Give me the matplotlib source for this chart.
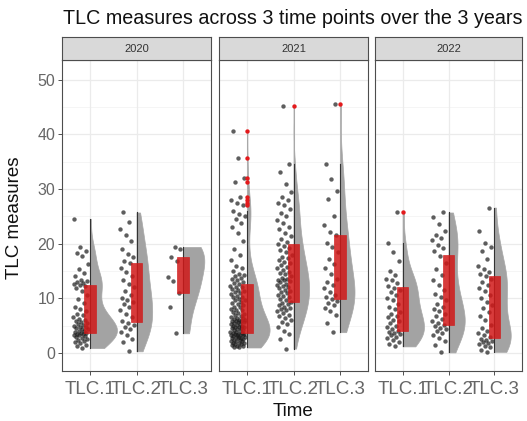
import numpy as np
import matplotlib
matplotlib.use("Agg")
import matplotlib.pyplot as plt

plt.rcParams['font.family'] = ['Liberation Sans', 'DejaVu Sans']

years = ["2020", "2021", "2022"]
times = ["TLC.1", "TLC.2", "TLC.3"]
title = "TLC measures across 3 time points over the 3 years"

tlc_2020_1 = [0.9, 1.2, 1.5, 1.8, 2.0, 2.2, 2.4, 2.6, 2.8, 3.0, 3.1, 3.2, 3.3, 3.4, 3.5,
              3.6, 3.7, 3.9, 4.0, 4.1, 4.3, 4.4, 4.5, 4.7, 4.8, 5.0, 5.1, 5.3, 5.4, 5.6,
              5.8, 6.0, 6.3, 6.6, 6.9, 7.2, 7.6, 8.0, 8.5, 9.1, 9.8, 10.6, 11.3, 11.9, 12.3,
              12.5, 12.6, 12.8, 12.9, 13.1, 13.4, 14.0, 14.6, 15.4, 16.3, 17.8, 18.2, 18.6, 19.4, 24.5]
tlc_2020_2 = [0.3, 2.0, 2.6, 3.2, 3.8, 4.3, 4.8, 5.1, 5.5,
              5.8, 6.5, 7.2, 7.8, 8.4, 8.9, 9.3, 9.7, 10.0,
              10.6, 11.3, 12.0, 12.6, 13.3, 14.0, 14.8, 15.6, 16.4,
              16.9, 17.5, 18.1, 19.0, 20.4, 21.6, 22.6, 24.0, 25.7]
tlc_2020_3 = [3.6, 8.4, 10.9, 13.2, 13.9, 16.9, 17.6, 19.0, 19.4]

tlc_2021_1 = [1.0, 1.1, 1.3, 1.3, 1.4, 1.6, 1.6, 1.8, 1.9, 1.9, 2.1, 2.1, 2.2, 2.4, 2.4,
              2.5, 2.7, 2.7, 2.8, 2.9, 3.0, 3.0, 3.1, 3.2, 3.2, 3.3, 3.3, 3.4, 3.5, 3.5,
              3.6, 3.7, 3.9, 3.9, 4.0, 4.2, 4.2, 4.3, 4.5, 4.5, 4.7, 4.7, 4.8, 5.0, 5.0,
              5.1, 5.3, 5.3, 5.4, 5.6, 5.6, 5.8, 5.8, 5.9, 6.1, 6.1, 6.2, 6.4, 6.4, 6.5,
              6.7, 6.9, 7.2, 7.3, 7.5, 7.8, 7.9, 8.1, 8.4, 8.5, 8.7, 9.0, 9.1, 9.3, 9.6,
              9.7, 9.9, 10.2, 10.3, 10.5, 10.8, 10.9, 11.1, 11.4, 11.5, 11.7, 12.0, 12.1, 12.3, 12.6,
              12.8, 13.0, 13.3, 13.6, 13.8, 14.0, 14.2, 14.5, 15.0, 15.5, 16.0, 17.0, 18.0, 19.0, 20.5,
              22.0, 23.0, 23.8, 24.5, 25.0, 25.5, 26.0, 27.0, 27.5, 28.0, 28.5, 31.3, 32.0, 35.7, 40.7]
tlc_2021_2 = [0.8, 2.5, 3.4, 4.1, 4.8, 5.3, 5.7, 6.1, 6.4, 6.8, 7.0, 7.3, 7.6, 7.8, 8.1, 8.3, 8.5, 8.8, 9.0, 9.2,
              9.4, 9.7, 9.9, 10.2, 10.4, 10.6, 10.9, 11.1, 11.3, 11.6, 11.8, 12.0, 12.2, 12.5, 12.7, 12.9, 13.1, 13.3, 13.4, 13.6,
              13.8, 14.1, 14.4, 14.6, 14.9, 15.2, 15.5, 15.8, 16.1, 16.4, 16.7, 17.0, 17.3, 17.6, 18.0, 18.4, 18.8, 19.2, 19.6, 19.9,
              20.3, 20.8, 21.4, 22.0, 22.6, 23.1, 23.8, 24.4, 25.0, 25.6, 26.3, 27.0, 27.5, 28.0, 28.6, 29.5, 31.0, 33.2, 34.5, 45.1]
tlc_2021_3 = [3.8, 5.5, 7.0, 7.6, 8.2, 8.7, 9.1, 9.5,
              9.9, 10.2, 10.6, 11.2, 11.9, 12.4, 13.0, 13.6,
              14.4, 15.5, 16.3, 17.2, 18.4, 19.3, 20.2, 21.5,
              22.1, 23.5, 25.0, 28.2, 29.6, 31.8, 34.5, 45.5]

tlc_2022_1 = [1.2, 1.6, 2.0, 2.3, 2.7, 3.0, 3.2, 3.4, 3.6, 3.8,
              4.0, 4.3, 4.7, 5.0, 5.4, 5.8, 6.1, 6.5, 6.8, 7.1,
              7.5, 8.0, 8.5, 9.0, 9.6, 10.1, 10.6, 11.1, 11.5, 11.9,
              12.3, 12.8, 13.3, 13.6, 14.2, 15.0, 16.9, 18.5, 20.2, 25.7]
tlc_2022_2 = [0.1, 1.5, 2.2, 2.8, 3.3, 3.7, 4.0, 4.3, 4.6, 4.9,
              5.1, 5.4, 5.8, 6.2, 6.7, 7.1, 7.6, 8.0, 8.5, 9.0,
              9.6, 10.2, 10.8, 11.6, 12.4, 13.4, 14.2, 15.3, 16.5, 17.8,
              18.6, 19.2, 19.8, 20.6, 21.0, 21.5, 22.4, 23.6, 24.8, 25.7]
tlc_2022_3 = [0.2, 0.6, 1.0, 1.3, 1.6, 1.8, 2.0, 2.2, 2.4, 2.6,
              2.9, 3.3, 3.6, 4.1, 4.5, 5.2, 6.0, 6.8, 7.5, 8.3,
              8.8, 9.4, 10.0, 10.6, 11.4, 11.9, 12.5, 13.0, 13.5, 14.0,
              14.5, 14.9, 15.3, 16.0, 17.2, 18.6, 19.3, 20.1, 22.4, 26.6]

data = {
    "2020": [tlc_2020_1, tlc_2020_2, tlc_2020_3],
    "2021": [tlc_2021_1, tlc_2021_2, tlc_2021_3],
    "2022": [tlc_2022_1, tlc_2022_2, tlc_2022_3],
}

W, H = 527, 421
fig = plt.figure(figsize=(W / 100, H / 100), dpi=100)

lefts = [62, 219, 375]
widths = [149, 149, 147]
top_px, bot_px, strip_top = 60, 371, 37
ylim = (-3.3, 53.6)

def nrd0(x):
    x = np.asarray(x)
    sd = np.std(x, ddof=1)
    iqr = np.subtract(*np.percentile(x, [75, 25]))
    lo = min(sd, iqr / 1.34) if iqr > 0 else sd
    return 0.9 * lo * len(x) ** (-0.2)

def kde(x, grid):
    x = np.asarray(x)
    bw = nrd0(x)
    d = np.exp(-0.5 * ((grid[:, None] - x[None, :]) / bw) ** 2).sum(axis=1)
    return d / (len(x) * bw * np.sqrt(2 * np.pi))

dens = {}
gmax = 0
for y in years:
    for i, vals in enumerate(data[y]):
        g = np.linspace(min(vals), max(vals), 300)
        d = kde(vals, g)
        dens[(y, i)] = (g, d)
        gmax = max(gmax, d.max())

vmax_width = 0.58
golden = 0.6180339887

for p, y in enumerate(years):
    ax = fig.add_axes([lefts[p] / W, 1 - bot_px / H, widths[p] / W, (bot_px - top_px) / H])
    ax.set_xlim(0.4, 3.6)
    ax.set_ylim(*ylim)
    ax.set_facecolor("white")
    for v in range(0, 51, 10):
        ax.axhline(v, color="#EBEBEB", lw=0.9, zorder=0)
    for v in range(5, 50, 10):
        ax.axhline(v, color="#F2F2F2", lw=0.5, zorder=0)
    for k in range(1, 4):
        ax.axvline(k, color="#EBEBEB", lw=0.9, zorder=0)

    for i, vals in enumerate(data[y]):
        pos = i + 1
        vals = np.asarray(vals)
        g, d = dens[(y, i)]
        w = d / gmax * vmax_width
        ax.fill_betweenx(g, pos, pos + w, color="#A3A3A3", lw=0.5, edgecolor="#A8A8A8", zorder=2)

        q1, med, q3 = np.percentile(vals, [25, 50, 75])
        iqr = q3 - q1
        lo_f, hi_f = q1 - 1.5 * iqr, q3 + 1.5 * iqr
        inside = vals[(vals >= lo_f) & (vals <= hi_f)]
        outl = vals[(vals < lo_f) | (vals > hi_f)]

        n = len(vals)
        jit = np.array([((k + 1) * golden) % 1.0 for k in range(n)])
        xs = pos - 0.36 + 0.32 * jit
        ax.scatter(xs, vals, s=10, color="#1A1A1A", alpha=0.7, lw=0, zorder=3)

        ax.plot([pos, pos], [inside.min(), inside.max()], color="#333333", lw=0.8, zorder=3.5)
        bw_ = 0.24
        ax.add_patch(plt.Rectangle((pos - bw_ / 2, q1), bw_, q3 - q1, facecolor="#D01818",
                                   edgecolor="#D01818", lw=0.5, alpha=0.85, zorder=4))
        if len(outl):
            ax.scatter(np.full(len(outl), pos), outl, s=10, color="#E31A1C", lw=0, zorder=5)

    ax.set_xticks([1, 2, 3])
    ax.set_xticklabels(times, fontsize=13.5, color="#666666")
    ax.set_yticks(range(0, 51, 10))
    ax.tick_params(axis="both", length=3, width=0.6, color="#333333")
    ax.tick_params(axis="x", pad=4)
    ax.tick_params(axis="y", pad=2)
    if p == 0:
        ax.set_yticklabels([str(v) for v in range(0, 51, 10)], fontsize=11.5, color="#666666")
    else:
        ax.tick_params(axis="y", length=0, labelleft=False)
    for s in ax.spines.values():
        s.set_color("#4D4D4D")
        s.set_linewidth(0.8)

    sax = fig.add_axes([lefts[p] / W, 1 - top_px / H, widths[p] / W, (top_px - strip_top) / H])
    sax.set_facecolor("#D9D9D9")
    sax.set_xticks([]); sax.set_yticks([])
    for s in sax.spines.values():
        s.set_color("#4D4D4D")
        s.set_linewidth(0.8)
    sax.text(0.5, 0.5, y, ha="center", va="center", fontsize=8, color="#333333", transform=sax.transAxes)

fig.text(63 / W, 1 - 18 / H, title, ha="left", va="center", fontsize=14.2, color="#111111")
fig.text(15 / W, 1 - 218 / H, "TLC measures", rotation=90, ha="center", va="center", fontsize=13.5, color="#111111")
fig.text(293 / W, 1 - 411 / H, "Time", ha="center", va="center", fontsize=13.5, color="#111111")

fig.savefig("out.png", dpi=100)
